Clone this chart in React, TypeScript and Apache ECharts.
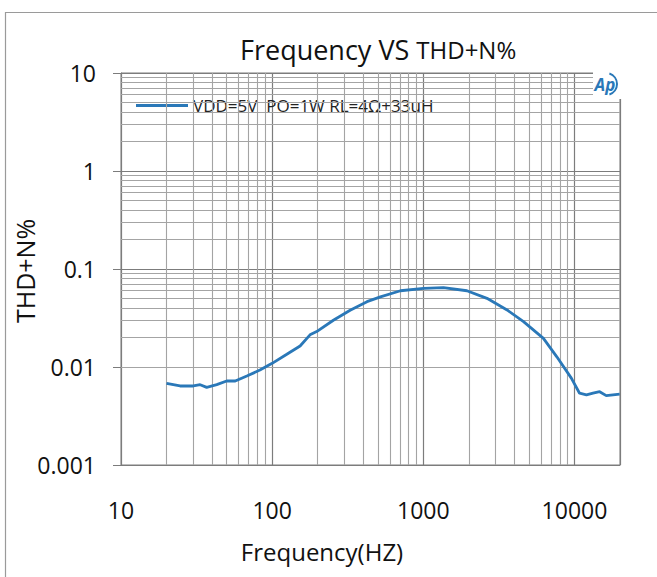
import { useEffect, useRef } from "react";
import * as echarts from "echarts";

const freqHz = [20, 24.6, 30.1, 33.4, 36.9, 43, 50, 57, 68, 83, 100, 125, 153, 178, 197, 254, 328, 424, 520, 706, 1005, 1358, 1942, 2636, 3580, 4600, 6230, 7640, 9530, 10800, 12000, 13260, 14670, 16220, 19900];
const thdPct = [0.0068, 0.0064, 0.0064, 0.0066, 0.0062, 0.0066, 0.0072, 0.0072, 0.0081, 0.0093, 0.0109, 0.0135, 0.0164, 0.0213, 0.023, 0.030, 0.038, 0.0464, 0.052, 0.060, 0.0635, 0.0645, 0.060, 0.0502, 0.0382, 0.029, 0.0196, 0.0127, 0.0077, 0.0054, 0.0052, 0.0054, 0.0056, 0.0051, 0.0053];

const xMinorTicks = [20, 30, 40, 50, 60, 70, 80, 90, 200, 300, 400, 500, 600, 700, 800, 900, 2000, 3000, 4000, 5000, 6000, 7000, 8000, 9000];
const yMinorTicks = [0.002, 0.003, 0.004, 0.005, 0.006, 0.007, 0.008, 0.009, 0.02, 0.03, 0.04, 0.05, 0.06, 0.07, 0.08, 0.09, 0.2, 0.3, 0.4, 0.5, 0.6, 0.7, 0.8, 0.9, 2, 3, 4, 5, 6, 7, 8, 9];

const seriesName = "VDD=5V  PO=1W RL=4Ω+33uH";
const FONT = "'Open Sans', 'Liberation Sans', sans-serif";
const MAJOR = "#7c7c7c";
const MINOR = "#a4a4a4";
const BLUE = "#2a78b8";

function isDecade(v: number) {
  const l = Math.log10(v);
  return Math.abs(l - Math.round(l)) < 1e-6;
}
function fmtDecade(v: number) {
  const e = Math.round(Math.log10(v));
  if (e >= 0) return String(Math.pow(10, e));
  return "0." + "0".repeat(-e - 1) + "1";
}

export default function App() {
  const ref = useRef<HTMLDivElement>(null);
  useEffect(() => {
    if (!ref.current) return;
    const chart = echarts.init(ref.current, null, { renderer: "svg" });
    chart.setOption({
      animation: false,
      backgroundColor: "#ffffff",
      title: {
        text: "{a|Frequency VS }{b|THD+N%}",
        left: 235,
        top: 31,
        textStyle: {
          rich: {
            a: { fontSize: 27, fontWeight: "normal", fontFamily: FONT, color: "#111" },
            b: { fontSize: 24, fontWeight: "normal", fontFamily: FONT, color: "#111" },
          },
        },
      },
      legend: {
        data: [seriesName],
        left: 131,
        top: 92,
        icon: "rect",
        itemWidth: 52,
        itemHeight: 3,
        itemGap: 5,
        textStyle: { fontSize: 17, fontFamily: FONT, color: "#222" },
      },
      grid: {
        left: 121,
        right: 37,
        top: 73,
        bottom: 112,
        show: true,
        borderColor: MAJOR,
        borderWidth: 1,
      },
      xAxis: {
        type: "log",
        logBase: 10,
        min: 10,
        max: 20000,
        axisLine: { show: true, lineStyle: { color: MAJOR } },
        axisTick: { show: false },
        splitLine: { show: true, lineStyle: { color: MAJOR, width: 1.2 } },
        axisLabel: {
          formatter: (v: number) => (isDecade(v) ? fmtDecade(v) : ""),
          fontSize: 23,
          fontFamily: FONT,
          color: "#111",
          margin: 33,
          showMaxLabel: false,
        },
      },
      yAxis: {
        type: "log",
        logBase: 10,
        min: 0.001,
        max: 10,
        splitNumber: 4,
        axisLine: { show: true, lineStyle: { color: MAJOR } },
        axisTick: { show: true, length: 8, lineStyle: { color: MAJOR } },
        splitLine: { show: true, lineStyle: { color: MAJOR, width: 1.2 } },
        axisLabel: {
          formatter: (v: number) => (isDecade(v) ? fmtDecade(v) : ""),
          fontSize: 23,
          fontFamily: FONT,
          color: "#111",
          margin: 25,
        },
      },
      graphic: [
        {
          type: "rect",
          shape: { x: 5.5, y: 12.5, width: 800, height: 800 },
          style: { fill: "none", stroke: "#9a9a9a", lineWidth: 1.2 },
          silent: true,
        },
        {
          type: "text",
          x: 322,
          y: 551,
          style: {
            text: "Frequency(HZ)",
            fontSize: 24,
            fontFamily: FONT,
            fill: "#111",
            align: "center",
            verticalAlign: "middle",
          },
        },
        {
          type: "text",
          x: 25,
          y: 271,
          rotation: Math.PI / 2,
          style: {
            text: "THD+N%",
            fontSize: 25,
            fontFamily: FONT,
            fill: "#111",
            align: "center",
            verticalAlign: "middle",
          },
        },
        {
          type: "rect",
          shape: { x: 593, y: 66, width: 34, height: 33 },
          style: { fill: "#ffffff" },
          z: 100,
        },
        {
          type: "text",
          x: 605,
          y: 84,
          z: 101,
          style: {
            text: "Ap",
            fontSize: 17,
            fontStyle: "italic",
            fontWeight: "bold",
            fontFamily: FONT,
            fill: BLUE,
            align: "center",
            verticalAlign: "middle",
          },
        },
        {
          type: "arc",
          z: 101,
          shape: { cx: 606, cy: 84, r: 11, startAngle: -Math.PI / 2.5, endAngle: Math.PI / 2.5 },
          style: { stroke: BLUE, lineWidth: 2, fill: "none" },
        },
      ],
      series: [
        {
          name: "gridMinor",
          type: "line",
          data: [],
          silent: true,
          z: 1,
          markLine: {
            silent: true,
            symbol: "none",
            label: { show: false },
            lineStyle: { color: MINOR, width: 1.1, type: "solid" },
            data: [
              ...xMinorTicks.map((v) => ({ xAxis: v })),
              ...yMinorTicks.map((v) => ({ yAxis: v })),
            ],
          },
        },
        {
          name: seriesName,
          type: "line",
          z: 5,
          data: freqHz.map((f, i) => [f, thdPct[i]]),
          showSymbol: false,
          symbol: "none",
          smooth: false,
          lineStyle: { color: BLUE, width: 2.8 },
          itemStyle: { color: BLUE },
        },
      ],
    });
    return () => chart.dispose();
  }, []);
  return (
    <div
      ref={ref}
      style={{ position: "fixed", left: 0, top: 0, width: 657, height: 577 }}
    />
  );
}
